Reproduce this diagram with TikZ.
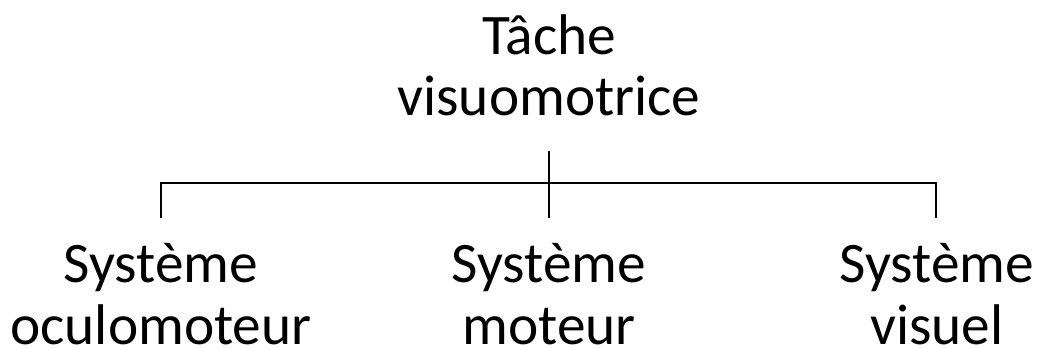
\documentclass[tikz,border=0pt]{standalone}
\usepackage{fontspec}
\setmainfont{Carlito}
\usetikzlibrary{positioning}

\begin{document}
\begin{tikzpicture}
  [x=0.75pt,y=-0.75pt,
  label/.style={align=center,inner sep=0pt,anchor=base,font=\fontsize{43}{46}\selectfont},
  branch/.style={draw=black,line width=1pt}]
  \useasboundingbox (0,0) rectangle (1038,349);

  \node[label] (tache) at (549,116) {Tâche\\visuomotrice};

  \node[label] (oculo) at (161,344) {Système\\oculomoteur};
  \node[label] (moteur) at (549,344) {Système\\moteur};
  \node[label] (visuel) at (937,344) {Système\\visuel};

  \coordinate (top) at (549,151);
  \coordinate (fork) at (549,183);
  \coordinate (forkl) at (161,183);
  \coordinate (forkr) at (936,183);
  \coordinate (endl) at (161,218);
  \coordinate (endm) at (549,218);
  \coordinate (endr) at (936,218);

  \draw [branch] (top) -- (endm);
  \draw [branch] (endl) -- (forkl) -- (forkr) -- (endr);

\end{tikzpicture}
\end{document}
